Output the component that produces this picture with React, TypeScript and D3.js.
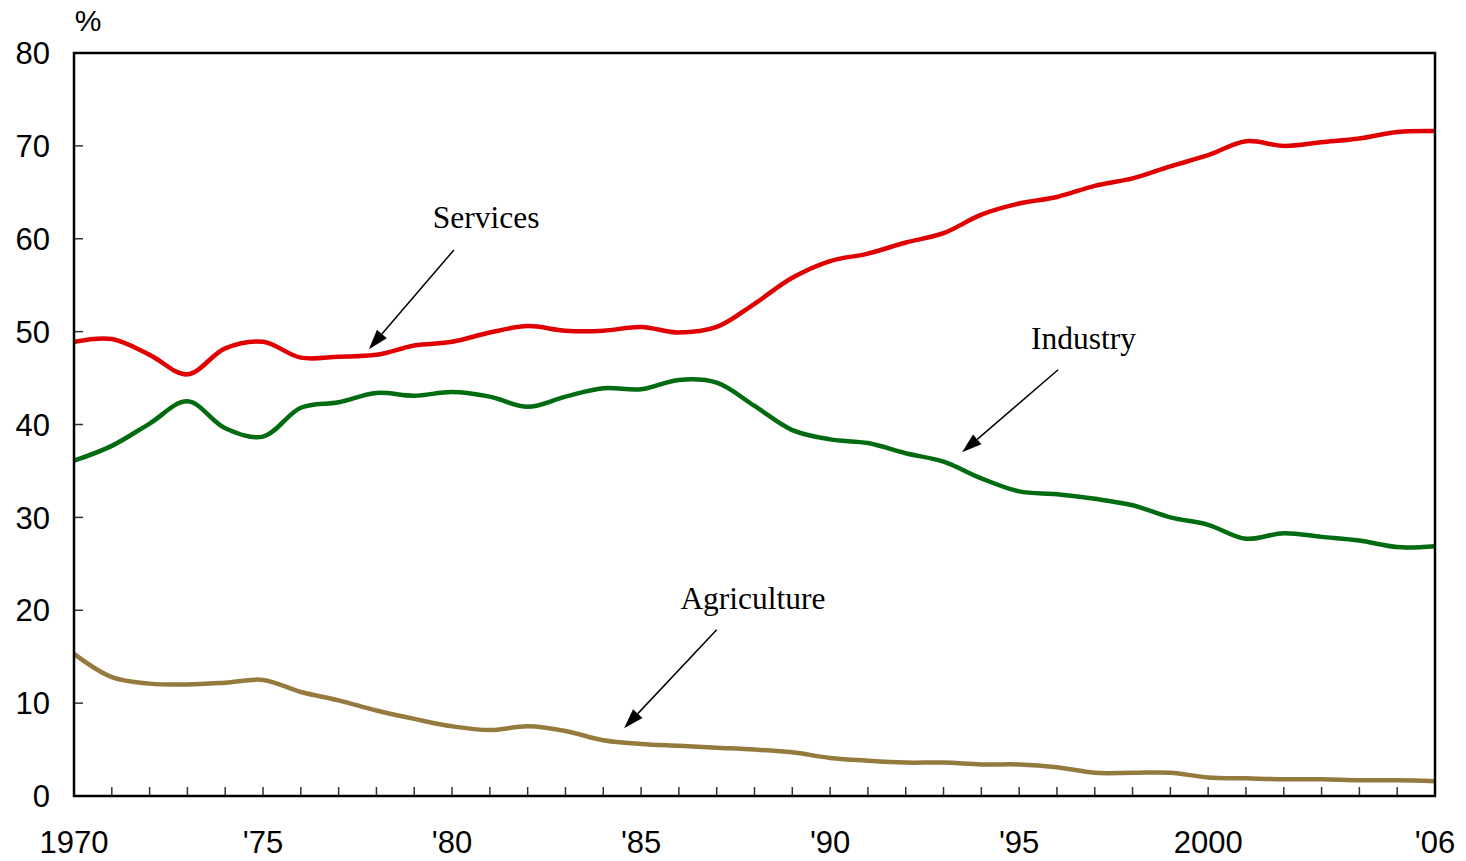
import React from "react";
import * as d3 from "d3";

const years = d3.range(1970, 2007);
const services = [48.9, 49.2, 47.5, 45.4, 48.2, 48.9, 47.2, 47.3, 47.5, 48.5, 48.9, 49.9, 50.6, 50.1, 50.1, 50.5, 49.9, 50.5, 53.0, 55.8, 57.6, 58.4, 59.6, 60.6, 62.6, 63.8, 64.5, 65.7, 66.5, 67.8, 69.0, 70.5, 70.0, 70.4, 70.8, 71.5, 71.6];
const industry = [36.1, 37.7, 40.1, 42.5, 39.6, 38.7, 41.8, 42.4, 43.4, 43.1, 43.5, 43.0, 41.9, 43.0, 43.9, 43.8, 44.8, 44.5, 42.0, 39.4, 38.4, 38.0, 36.9, 36.0, 34.2, 32.8, 32.5, 32.0, 31.3, 30.0, 29.2, 27.7, 28.3, 27.9, 27.5, 26.8, 26.9];
const agriculture = [15.3, 12.8, 12.1, 12.0, 12.2, 12.5, 11.2, 10.3, 9.2, 8.3, 7.5, 7.1, 7.5, 7.0, 6.0, 5.6, 5.4, 5.2, 5.0, 4.7, 4.1, 3.8, 3.6, 3.6, 3.4, 3.4, 3.1, 2.5, 2.5, 2.5, 2.0, 1.9, 1.8, 1.8, 1.7, 1.7, 1.6];
const yTicks = [0, 10, 20, 30, 40, 50, 60, 70, 80];
const xLabelYears = [1970, 1975, 1980, 1985, 1990, 1995, 2000, 2006];
const xLabels = ["1970", "'75", "'80", "'85", "'90", "'95", "2000", "'06"];

const seriesList = [
  { name: "Services", values: services, color: "#e00000" },
  { name: "Industry", values: industry, color: "#006b10" },
  { name: "Agriculture", values: agriculture, color: "#957a3e" },
];

const annotations = [
  { text: "Services", lx: 1980.9, ly: 61.2, x1: 1980.05, y1: 58.8, x2: 1977.8, y2: 48.1 },
  { text: "Industry", lx: 1996.7, ly: 48.1, x1: 1996.03, y1: 45.9, x2: 1993.49, y2: 37.0 },
  { text: "Agriculture", lx: 1987.96, ly: 20.1, x1: 1987.0, y1: 17.9, x2: 1984.55, y2: 7.3 },
];

const W = 1466, H = 861;
const M = { left: 74, right: 1435, top: 53, bottom: 796 };

export default function App() {
  const x = d3.scaleLinear().domain([1970, 2006]).range([M.left, M.right]);
  const y = d3.scaleLinear().domain([0, 80]).range([M.bottom, M.top]);
  const line = d3
    .line<number>()
    .x((_, i) => x(years[i]))
    .y((d) => y(d))
    .curve(d3.curveCatmullRom.alpha(0.5));
  const sans = "'Liberation Sans', Arial, sans-serif";
  const serif = "'Liberation Serif', 'Times New Roman', serif";

  const arrow = (a: typeof annotations[number], i: number) => {
    const X1 = x(a.x1), Y1 = y(a.y1), X2 = x(a.x2), Y2 = y(a.y2);
    const ang = Math.atan2(Y2 - Y1, X2 - X1);
    const L = 20, hw = 6.5;
    const bx = X2 - L * Math.cos(ang), by = Y2 - L * Math.sin(ang);
    const px = -Math.sin(ang) * hw, py = Math.cos(ang) * hw;
    return (
      <g key={i}>
        <line x1={X1} y1={Y1} x2={bx} y2={by} stroke="#000" strokeWidth={1.5} />
        <polygon points={`${X2},${Y2} ${bx + px},${by + py} ${bx - px},${by - py}`} fill="#000" />
        <text x={x(a.lx)} y={y(a.ly)} textAnchor="middle" fontFamily={serif} fontSize={31.5} fill="#000">
          {a.text}
        </text>
      </g>
    );
  };

  return (
    <svg width={W} height={H} style={{ position: "absolute", left: 0, top: 0, background: "#fff" }}>
      {seriesList.map((s) => (
        <path key={s.name} d={line(s.values) || ""} fill="none" stroke={s.color} strokeWidth={4.5} strokeLinejoin="round" />
      ))}
      {years.slice(1, -1).map((yr) => (
        <line key={yr} x1={x(yr)} x2={x(yr)} y1={M.bottom} y2={M.bottom - 9} stroke="#333" strokeWidth={1.5} />
      ))}
      {yTicks.slice(1, -1).map((t) => (
        <line key={t} x1={M.left} x2={M.left + 9} y1={y(t)} y2={y(t)} stroke="#333" strokeWidth={1.5} />
      ))}
      <rect x={M.left} y={M.top} width={M.right - M.left} height={M.bottom - M.top} fill="none" stroke="#000" strokeWidth={2.5} />
      {yTicks.map((t) => (
        <text key={t} x={50} y={y(t)} dy="0.36em" textAnchor="end" fontFamily={sans} fontSize={31} fill="#000">
          {t}
        </text>
      ))}
      {xLabelYears.map((yr, i) => (
        <text key={yr} x={x(yr)} y={853} textAnchor="middle" fontFamily={sans} fontSize={31} fill="#000">
          {xLabels[i]}
        </text>
      ))}
      <text x={88} y={31} textAnchor="middle" fontFamily={sans} fontSize={30} fill="#000">%</text>
      {annotations.map(arrow)}
    </svg>
  );
}
